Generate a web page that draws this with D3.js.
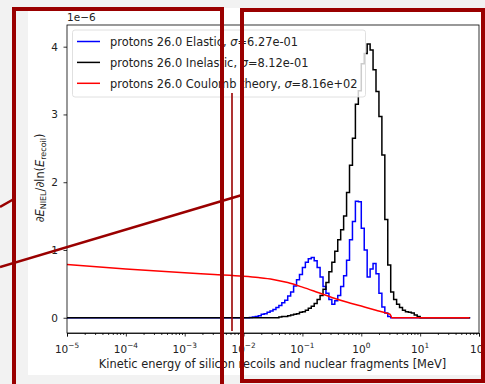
<!DOCTYPE html>
<html>
<head>
<meta charset="utf-8">
<script src="https://cdn.jsdelivr.net/npm/d3@7"></script>
<style>
  body { margin: 0; background: #f2f2f2; }
  svg text { font-family: "DejaVu Sans", sans-serif; fill: #222; }
</style>
</head>
<body>
<svg id="chart" width="485" height="384"></svg>
<script>
// Histogram bin edges, log10(E / MeV): one wide empty bin, 20 bins per decade, one wide empty bin
const binEdgesLog = [-5, -2.00, -1.95, -1.90, -1.85, -1.80, -1.75, -1.70, -1.65, -1.60, -1.55,
  -1.50, -1.45, -1.40, -1.35, -1.30, -1.25, -1.20, -1.15, -1.10, -1.05,
  -1.00, -0.95, -0.90, -0.85, -0.80, -0.75, -0.70, -0.65, -0.60, -0.55,
  -0.50, -0.45, -0.40, -0.35, -0.30, -0.25, -0.20, -0.15, -0.10, -0.05,
  0.00, 0.05, 0.10, 0.15, 0.20, 0.25, 0.30, 0.35, 0.40, 0.45,
  0.50, 0.55, 0.60, 0.65, 0.70, 0.75, 0.80, 0.85, 0.90, 0.95, 1.00, 1.85];

// dE_NIEL / dln(E_recoil) per bin, units of 1e-6
const elasticValues = [0,
  0, 0, 0.005, 0.01, 0.02, 0.03, 0.05, 0.06, 0.08, 0.10,
  0.12, 0.15, 0.18, 0.22, 0.26, 0.32, 0.38, 0.47, 0.56, 0.64,
  0.74, 0.82, 0.87, 0.89, 0.84, 0.74, 0.60, 0.46, 0.36, 0.27,
  0.20, 0.25, 0.33, 0.46, 0.62, 0.85, 1.15, 1.42, 1.72, 1.71,
  1.32, 1.00, 0.60, 0.72, 0.80, 0.65, 0.36, 0.16, 0.07, 0.02,
  0, 0, 0, 0, 0, 0, 0, 0, 0, 0,
  0];

const inelasticValues = [0,
  0, 0, 0, 0, 0, 0, 0, 0, 0, 0,
  0, 0, 0.01, 0.02, 0.02, 0.03, 0.04, 0.05, 0.06, 0.08,
  0.09, 0.11, 0.14, 0.17, 0.21, 0.27, 0.33, 0.42, 0.52, 0.68,
  0.82, 0.98, 1.15, 1.30, 1.50, 1.85, 2.25, 2.65, 3.15, 3.35,
  3.75, 3.90, 4.04, 3.95, 3.66, 3.34, 2.97, 2.40, 1.45, 0.78,
  0.38, 0.27, 0.20, 0.15, 0.11, 0.09, 0.08, 0.07, 0.04, 0.02,
  0];

// Coulomb theory curve: log10(E / MeV) and value (1e-6)
const coulombLogE = [-5, -4, -3, -2.5, -2, -1.75, -1.5, -1.25, -1, -0.75, -0.5, -0.25, 0, 0.25, 0.45, 0.49, 0.52, 1.84];
const coulombValues = [0.787, 0.72, 0.663, 0.638, 0.612, 0.593, 0.566, 0.519, 0.452, 0.377, 0.30, 0.232, 0.172, 0.112, 0.063, 0.05, 0, 0];

const seriesNames = [
  ["protons 26.0 Elastic, ", "=6.27e-01"],
  ["protons 26.0 Inelastic, ", "=8.12e-01"],
  ["protons 26.0 Coulomb theory, ", "=8.16e+02"]
];
const seriesColors = ["#0000ff", "#000000", "#ff0000"];
const xTickExponents = [-5, -4, -3, -2, -1, 0, 1, 2];
const yTickValues = [0, 1, 2, 3, 4];
const xLabel = "Kinetic energy of silicon recoils and nuclear fragments [MeV]";

const svg = d3.select("#chart");
const annot = "#9a0000";
const tickFont = 10.5, labelFont = 11.4;

// figure canvas
svg.append("rect").attr("x", 28).attr("y", 8).attr("width", 455).attr("height", 367).attr("fill", "#fff");

const mLeft = 67, mRight = 479, mTop = 25, mBottom = 333;
const x = d3.scaleLog().domain([1e-5, 1e2]).range([mLeft, mRight]);
const y = d3.scaleLinear().domain([-0.225, 4.32]).range([mBottom, mTop]);

const plot = svg.append("g");

function histPoints(vals) {
  const pts = vals.map((v, i) => [Math.pow(10, binEdgesLog[i]), v]);
  pts.push([Math.pow(10, binEdgesLog[binEdgesLog.length - 1]), vals[vals.length - 1]]);
  return pts;
}
const stepLine = d3.line().x(d => x(d[0])).y(d => y(d[1])).curve(d3.curveStepAfter);
const smoothLine = d3.line().x(d => x(d[0])).y(d => y(d[1])).curve(d3.curveMonotoneX);

plot.append("path").datum(histPoints(elasticValues)).attr("d", stepLine)
  .attr("fill", "none").attr("stroke", seriesColors[0]).attr("stroke-width", 1.5);
plot.append("path").datum(histPoints(inelasticValues)).attr("d", stepLine)
  .attr("fill", "none").attr("stroke", seriesColors[1]).attr("stroke-width", 1.5);
plot.append("path").datum(coulombLogE.map((e, i) => [Math.pow(10, e), coulombValues[i]])).attr("d", smoothLine)
  .attr("fill", "none").attr("stroke", seriesColors[2]).attr("stroke-width", 1.5);

// axes
const minorTicks = [];
for (let d = -5; d < 2; d++) for (let m = 2; m <= 9; m++) minorTicks.push(m * Math.pow(10, d));

const xMinor = svg.append("g").attr("transform", `translate(0,${mBottom})`)
  .call(d3.axisBottom(x).tickValues(minorTicks).tickSize(2).tickFormat(""));
const xMajor = svg.append("g").attr("transform", `translate(0,${mBottom})`)
  .call(d3.axisBottom(x).tickValues(xTickExponents.map(e => Math.pow(10, e))).tickSize(3.5).tickFormat(""));
xMinor.select(".domain").remove();
[xMinor, xMajor].forEach(g => g.selectAll("line").attr("stroke", "#000").attr("stroke-width", 0.8));
xMajor.select(".domain").attr("stroke", "#000").attr("stroke-width", 0.8);

const xLabels = svg.append("g");
xTickExponents.forEach(e => {
  const t = xLabels.append("text").attr("x", x(Math.pow(10, e))).attr("y", 353)
    .attr("text-anchor", "middle").attr("font-size", tickFont);
  t.append("tspan").text("10");
  t.append("tspan").attr("font-size", tickFont * 0.7).attr("dy", -4.8).text(e < 0 ? "\u2212" + (-e) : String(e));
});

const yAxis = svg.append("g").attr("transform", `translate(${mLeft},0)`)
  .call(d3.axisLeft(y).tickValues(yTickValues).tickSize(3.5).tickPadding(5.5).tickFormat(d3.format("d")));
yAxis.selectAll("line").attr("stroke", "#000").attr("stroke-width", 0.8);
yAxis.select(".domain").remove();
yAxis.selectAll("text").attr("font-size", tickFont).attr("font-family", "DejaVu Sans").attr("fill", "#222");

// frame
svg.append("rect").attr("x", mLeft).attr("y", mTop).attr("width", mRight - mLeft).attr("height", mBottom - mTop)
  .attr("fill", "none").attr("stroke", "#000").attr("stroke-width", 0.8);

svg.append("text").attr("x", mLeft).attr("y", 21).attr("font-size", tickFont).text("1e\u22126");

svg.append("text").attr("x", (mLeft + mRight) / 2 - 0.5).attr("y", 368).attr("text-anchor", "middle")
  .attr("font-size", labelFont).text(xLabel);

const yl = svg.append("text").attr("transform", `translate(44,178) rotate(-90)`)
  .attr("text-anchor", "middle").attr("font-size", labelFont);
const sub = labelFont * 0.7;
yl.append("tspan").text("\u2202");
yl.append("tspan").attr("font-style", "italic").text("E");
yl.append("tspan").attr("font-size", sub).attr("dy", 2.2).text("NIEL");
yl.append("tspan").attr("dy", -2.2).text("/\u2202ln(");
yl.append("tspan").attr("font-style", "italic").text("E");
yl.append("tspan").attr("font-size", sub).attr("dy", 2.2).text("recoil");
yl.append("tspan").attr("dy", -2.2).text(")");

// legend
const lg = svg.append("g");
lg.append("rect").attr("x", 72.5).attr("y", 30).attr("width", 293).attr("height", 67).attr("rx", 2.5)
  .attr("fill", "#fff").attr("fill-opacity", 0.8).attr("stroke", "#d8d8d8").attr("stroke-width", 0.8);
seriesNames.forEach((n, i) => {
  const ly = 41.5 + i * 20.9;
  lg.append("line").attr("x1", 77).attr("x2", 100).attr("y1", ly).attr("y2", ly)
    .attr("stroke", seriesColors[i]).attr("stroke-width", 1.5);
  const t = lg.append("text").attr("x", 110).attr("y", ly + 4.5).attr("font-size", labelFont);
  t.append("tspan").text(n[0]);
  t.append("tspan").attr("font-style", "italic").text("\u03c3");
  t.append("tspan").text(n[1]);
});

// highlight overlays
const ov = svg.append("g").attr("fill", "none").attr("stroke", annot);
ov.append("path").attr("d", "M14,390 V9 H222 V390").attr("stroke-width", 4);
ov.append("rect").attr("x", 242).attr("y", 10).attr("width", 241).attr("height", 371).attr("stroke-width", 4);
ov.append("line").attr("x1", 232).attr("x2", 232).attr("y1", 93).attr("y2", 331).attr("stroke-width", 1.6);
ov.append("line").attr("x1", 0).attr("y1", 267).attr("x2", 242).attr("y2", 195).attr("stroke-width", 2.5);
ov.append("line").attr("x1", 0).attr("y1", 207).attr("x2", 14).attr("y2", 199).attr("stroke-width", 2.5);
</script>
</body>
</html>
